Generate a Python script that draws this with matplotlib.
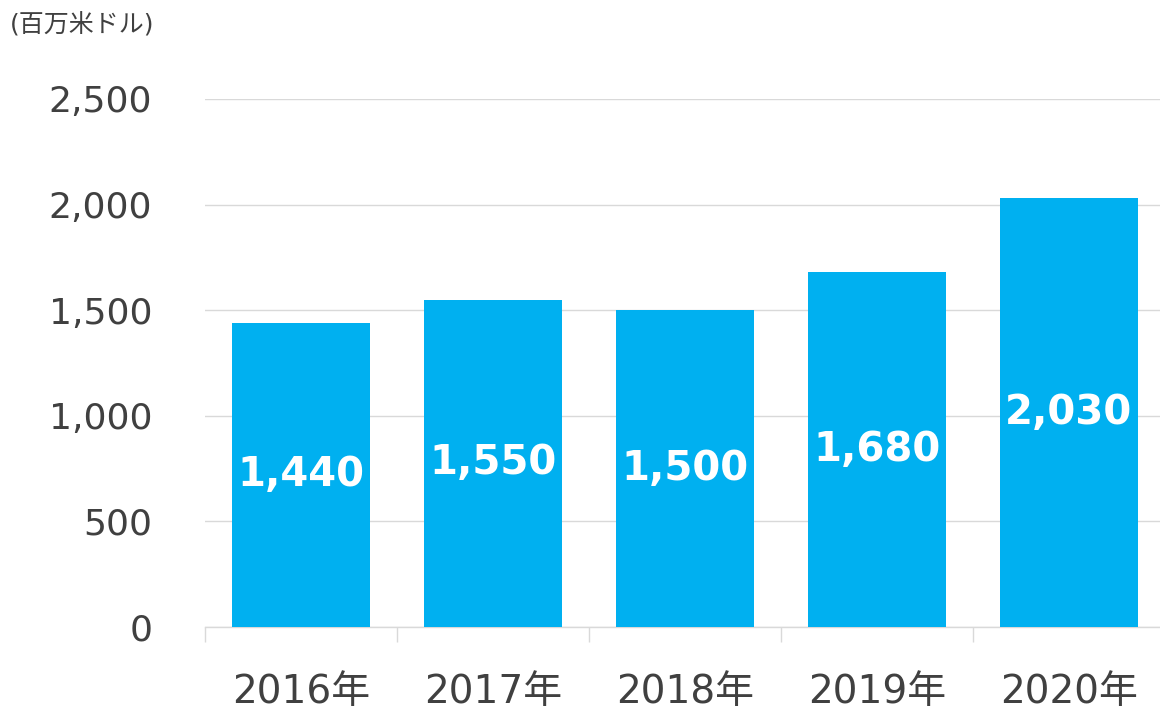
import matplotlib
matplotlib.use("Agg")
import matplotlib.pyplot as plt

plt.rcParams['font.family'] = ['DejaVu Sans', 'Noto Sans CJK JP']

years = ['2016年', '2017年', '2018年', '2019年', '2020年']
values = [1440, 1550, 1500, 1680, 2030]
yticks = [0, 500, 1000, 1500, 2000, 2500]
ytick_labels = ['0', '500', '1,000', '1,500', '2,000', '2,500']
unit = '(百万米ドル)'

bar_color = '#00B0F0'
text_color = '#404040'
grid_color = '#D9D9D9'

fig = plt.figure(figsize=(11.6, 7.13), dpi=100)
ax = fig.add_axes([205 / 1160, 86 / 713, 960 / 1160, 528 / 713])

x = list(range(len(years)))
ax.bar(x, values, width=0.714, color=bar_color, zorder=3)

for xi, v in zip(x, values):
    ax.text(xi, v / 2, f'{v:,}', ha='center', va='center',
            color='white', fontsize=29, fontweight='bold', zorder=4)

ax.set_xlim(-0.5, len(years) - 0.5)
ax.set_ylim(0, 2500)
ax.set_yticks(yticks)
ax.set_yticklabels(ytick_labels, fontsize=26, color=text_color)
ax.yaxis.grid(True, color=grid_color, linewidth=1.0, zorder=0)
ax.tick_params(axis='y', length=0, pad=38)

# category ticks at the boundaries, labels centered
ax.set_xticks([i - 0.5 for i in range(len(years) + 1)])
ax.set_xticklabels([])
ax.set_xticks(x, minor=True)
ax.set_xticklabels(years, minor=True, fontsize=28, color=text_color)
ax.tick_params(axis='x', which='major', length=11, width=1.0, color=grid_color)
ax.tick_params(axis='x', which='minor', length=0, pad=33)

for s in ['top', 'right', 'left']:
    ax.spines[s].set_visible(False)
ax.spines['bottom'].set_color(grid_color)
ax.spines['bottom'].set_linewidth(1.0)

fig.text(10 / 1160, 1 - 25 / 713, unit, fontsize=18, color=text_color,
         ha='left', va='center')

fig.savefig('out.png', dpi=100)
